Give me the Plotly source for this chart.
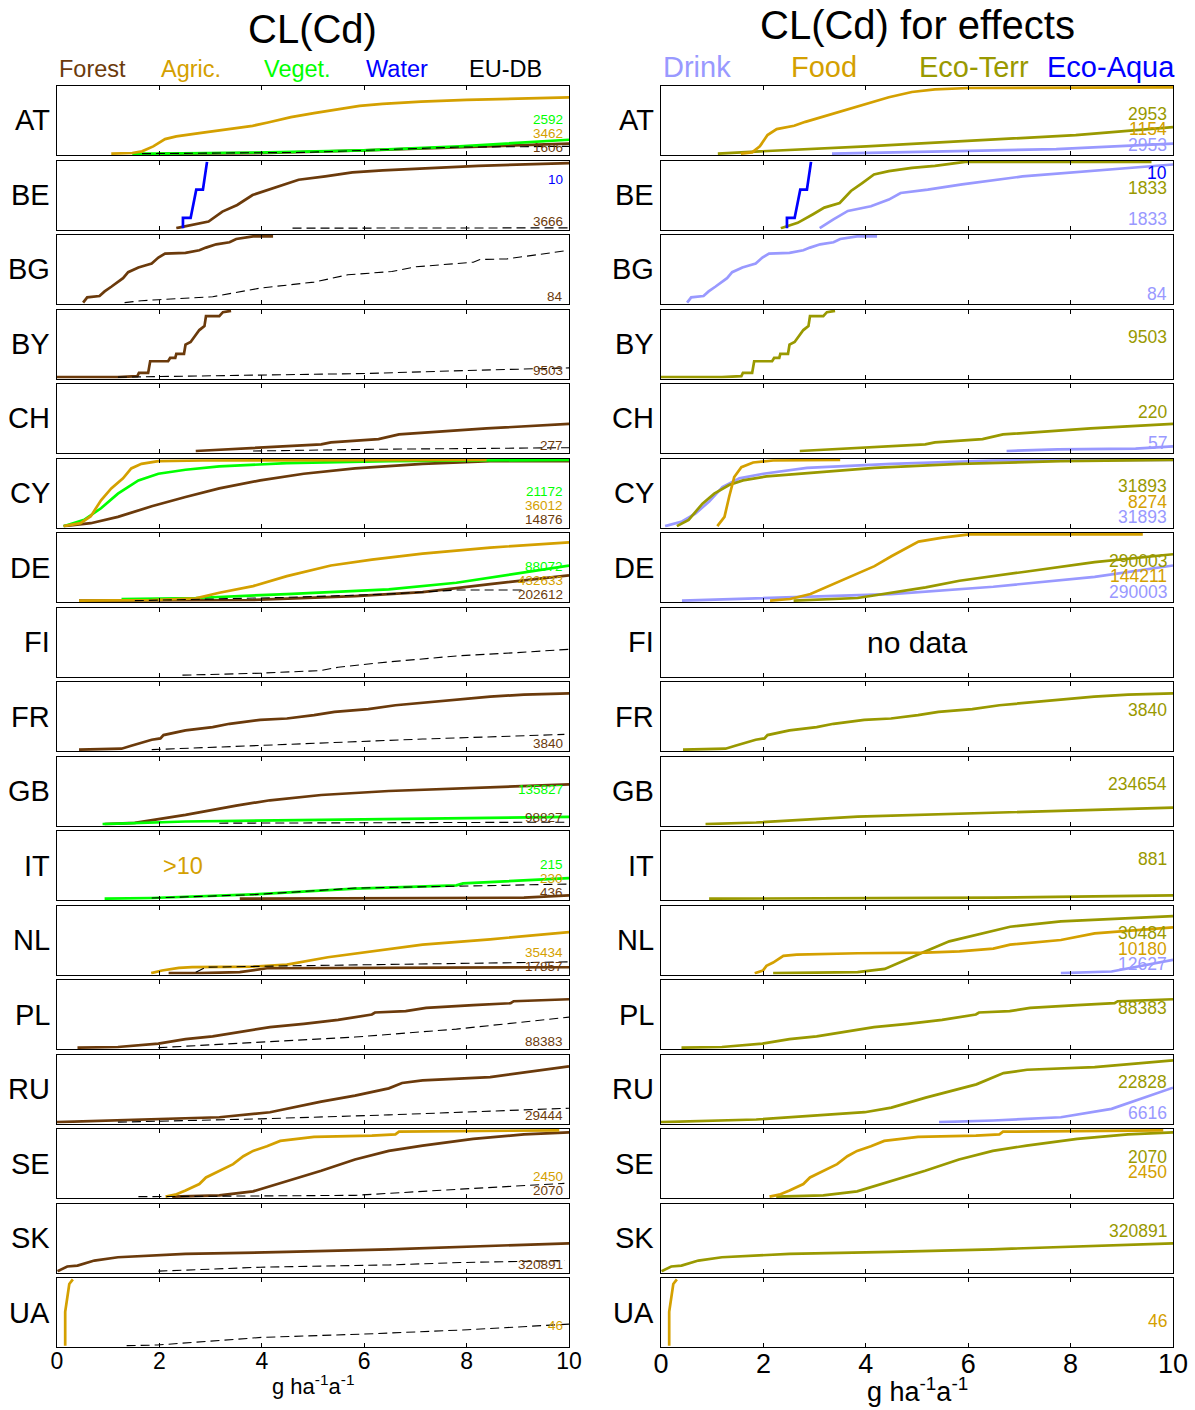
import plotly.graph_objects as go
from plotly.subplots import make_subplots

W, H = 1195, 1410
FONT = "Liberation Sans, Arial, sans-serif"

COUNTRIES = ["AT", "BE", "BG", "BY", "CH", "CY", "DE", "FI", "FR", "GB",
             "IT", "NL", "PL", "RU", "SE", "SK", "UA"]
X_TICKS = [0, 2, 4, 6, 8, 10]

# ---------------- colours ----------------
C_FOREST = "#6b3a0b"
C_AGRIC = "#d4a000"
C_VEGET = "#00ff00"
C_WATER = "#0000ff"
C_EUDB = "#000000"
C_DRINK = "#9999ff"
C_FOOD = "#d4a000"
C_ECOTERR = "#999900"
C_ECOAQUA = "#0000ff"

# ---------------- data: (CL value g/ha/a, cumulative fraction) ----------------
AT_FOREST = [(1.96, 0), (4.12, 0.01), (5.99, 0.05), (7.86, 0.10), (10, 0.15)]
AT_AGRIC = [(1.06, 0), (1.47, 0.01), (1.66, 0.035), (1.88, 0.11), (2.11, 0.22), (2.33, 0.26),
            (2.78, 0.31), (3.38, 0.37), (3.82, 0.42), (4.12, 0.47), (4.57, 0.55), (5.02, 0.61),
            (5.47, 0.66), (5.91, 0.72), (6.36, 0.75), (7.11, 0.785), (8.0, 0.81), (10, 0.85)]
AT_VEGET = [(1.47, 0), (1.96, 0), (4.12, 0.02), (5.99, 0.05), (7.86, 0.11), (10, 0.21)]
AT_EUDB = [(1.66, 0), (4.87, 0.02), (7.86, 0.10), (10, 0.11)]

BE_FOREST = [(2.33, 0), (2.96, 0.10), (3.23, 0.25), (3.52, 0.35), (3.82, 0.50), (4.2, 0.60),
             (4.42, 0.65), (4.72, 0.73), (5.24, 0.78), (5.77, 0.84), (6.36, 0.87), (7.11, 0.90),
             (8.23, 0.94), (10, 0.98)]
BE_WATER = [(2.46, 0), (2.46, 0.155), (2.61, 0.155), (2.72, 0.58), (2.85, 0.58), (2.93, 1.0)]
BE_EUDB = [(4.6, 0), (10, 0.005)]

BG_FOREST = [(0.51, 0), (0.59, 0.08), (0.83, 0.10), (0.93, 0.17), (1.06, 0.24), (1.19, 0.32),
             (1.29, 0.37), (1.39, 0.46), (1.59, 0.53), (1.72, 0.56), (1.85, 0.59), (1.98, 0.68),
             (2.11, 0.74), (2.51, 0.75), (2.78, 0.79), (2.91, 0.83), (3.11, 0.88), (3.37, 0.91),
             (3.5, 0.96), (3.83, 1.0), (4.22, 1.0)]
BG_EUDB = [(1.32, 0), (1.65, 0.03), (1.98, 0.045), (3.04, 0.09), (3.97, 0.22), (5.02, 0.31),
           (5.68, 0.42), (6.54, 0.47), (7.0, 0.54), (8.13, 0.61), (8.26, 0.65), (8.79, 0.66),
           (9.91, 0.78)]

BY_FOREST = [(0, 0), (1.19, 0), (1.57, 0.015), (1.6, 0.064), (1.78, 0.064), (1.82, 0.24),
             (2.17, 0.24), (2.21, 0.29), (2.31, 0.29), (2.33, 0.35), (2.48, 0.35), (2.51, 0.49),
             (2.61, 0.53), (2.71, 0.63), (2.78, 0.71), (2.88, 0.77), (2.91, 0.92), (3.17, 0.92),
             (3.24, 0.98), (3.4, 1.0)]
BY_EUDB = [(1.19, 0), (3.97, 0.03), (6.01, 0.055), (8.0, 0.10), (10, 0.14)]

CH_FOREST = [(2.71, 0.01), (3.97, 0.06), (5.16, 0.11), (5.35, 0.14), (6.28, 0.19), (6.68, 0.26),
             (7.8, 0.32), (8.39, 0.35), (10, 0.42)]
CH_EUDB = [(3.83, 0.01), (6.08, 0.035), (10, 0.06)]

CY_FOREST = [(0.13, 0), (0.66, 0.045), (1.19, 0.14), (1.85, 0.30), (2.51, 0.44), (3.17, 0.57),
             (3.97, 0.69), (4.82, 0.79), (5.82, 0.87), (7.14, 0.94), (8.46, 0.98), (10, 0.98)]
CY_AGRIC = [(0.13, 0), (0.46, 0.045), (0.66, 0.15), (0.86, 0.39), (1.06, 0.57), (1.29, 0.72),
            (1.45, 0.87), (1.65, 0.94), (1.98, 0.98), (2.84, 0.99), (8.39, 1.0)]
CY_VEGET = [(0.13, 0), (0.53, 0.095), (0.86, 0.27), (1.19, 0.49), (1.59, 0.69), (1.98, 0.79),
            (2.51, 0.85), (3.17, 0.90), (4.49, 0.95), (6.48, 0.98), (10, 1.0)]

DE_FOREST = [(0.43, 0), (3.83, 0.01), (5.82, 0.07), (7.14, 0.13), (8.46, 0.25), (10, 0.38)]
DE_AGRIC = [(0.43, 0), (1.85, 0.01), (2.71, 0.035), (3.17, 0.12), (3.83, 0.22), (4.49, 0.37),
            (5.35, 0.53), (6.15, 0.62), (7.14, 0.71), (8.46, 0.80), (10, 0.88)]
DE_VEGET = [(1.26, 0.025), (2.71, 0.04), (4.49, 0.10), (6.48, 0.17), (7.8, 0.27), (9.12, 0.42),
            (10, 0.53)]
DE_EUDB = [(1.52, 0), (4.49, 0.05), (6.48, 0.10), (7.8, 0.16), (9.12, 0.16)]

FI_EUDB = [(2.45, 0), (3.97, 0.03), (5.16, 0.07), (5.49, 0.12), (6.48, 0.20), (7.8, 0.29),
           (8.99, 0.34), (10, 0.39)]

FR_FOREST = [(0.43, 0), (1.26, 0.015), (1.45, 0.06), (1.85, 0.15), (2.02, 0.17), (2.08, 0.22),
             (2.51, 0.29), (3.04, 0.34), (3.37, 0.39), (3.97, 0.45), (4.49, 0.47), (5.02, 0.52),
             (5.42, 0.57), (6.08, 0.61), (6.61, 0.67), (7.27, 0.72), (7.93, 0.76), (8.46, 0.80),
             (9.12, 0.83), (10, 0.85)]
FR_EUDB = [(1.85, 0), (3.17, 0.04), (5.16, 0.11), (7.14, 0.16), (9.91, 0.23)]

GB_FOREST = [(0.93, 0), (1.52, 0.02), (2.51, 0.14), (3.5, 0.28), (4.16, 0.36), (5.16, 0.44),
             (6.48, 0.50), (7.8, 0.54), (10, 0.60)]
GB_VEGET = [(0.89, 0), (2.51, 0.04), (5.16, 0.065), (7.8, 0.095), (10, 0.11)]
GB_EUDB = [(3.17, 0.015), (10, 0.03)]

IT_FOREST = [(3.57, 0), (9.12, 0.015), (10, 0.05)]
IT_VEGET = [(0.93, 0), (1.85, 0.01), (3.83, 0.064), (5.82, 0.15), (7.8, 0.20), (7.93, 0.23),
            (10, 0.31)]
IT_EUDB = [(1.85, 0.01), (3.83, 0.06), (5.82, 0.16), (10, 0.22)]

NL_FOREST = [(2.18, 0), (2.78, 0), (3.57, 0.015), (4.1, 0.074), (10, 0.089)]
NL_AGRIC = [(1.84, 0), (2.05, 0.04), (2.38, 0.08), (2.64, 0.09), (3.83, 0.10), (4.49, 0.13),
            (5.29, 0.24), (6.15, 0.33), (7.14, 0.43), (8.46, 0.51), (10, 0.62)]
NL_EUDB = [(2.71, 0.015), (2.91, 0.09), (4.49, 0.11), (6.48, 0.13), (10, 0.17)]

PL_FOREST = [(0.4, 0), (1.19, 0.01), (1.98, 0.06), (2.51, 0.13), (3.04, 0.17), (3.5, 0.23),
             (4.16, 0.31), (4.82, 0.36), (5.49, 0.42), (6.15, 0.50), (6.21, 0.53), (6.81, 0.55),
             (7.21, 0.60), (8.13, 0.64), (8.86, 0.67), (8.92, 0.70), (10, 0.73)]
PL_EUDB = [(1.98, 0), (3.7, 0.07), (5.82, 0.16), (7.8, 0.28), (10, 0.46)]

RU_FOREST = [(0, 0), (1.85, 0.04), (3.17, 0.074), (4.16, 0.15), (5.16, 0.31), (5.82, 0.40),
             (6.48, 0.51), (6.74, 0.59), (7.14, 0.63), (8.46, 0.68), (10, 0.84)]
RU_EUDB = [(1.19, 0), (3.97, 0.05), (6.48, 0.11), (10, 0.21)]

SE_FOREST = [(2.25, 0), (3.17, 0.02), (3.83, 0.08), (4.49, 0.23), (5.16, 0.39), (5.82, 0.56),
             (6.48, 0.69), (7.14, 0.77), (8.13, 0.87), (9.12, 0.94), (10, 0.97)]
SE_AGRIC = [(2.12, 0), (2.31, 0.03), (2.51, 0.094), (2.78, 0.19), (2.91, 0.29), (3.17, 0.39),
            (3.44, 0.49), (3.64, 0.61), (3.83, 0.69), (4.1, 0.76), (4.36, 0.84), (5.02, 0.90),
            (6.15, 0.92), (6.61, 0.94), (6.68, 0.98), (9.81, 1.0)]
SE_EUDB = [(1.59, 0), (5.82, 0.02), (7.8, 0.11), (9.91, 0.20)]

SK_FOREST = [(0.01, 0), (0.2, 0.07), (0.4, 0.084), (0.73, 0.16), (1.19, 0.21), (2.51, 0.26),
             (4.49, 0.29), (6.48, 0.33), (10, 0.42)]
SK_EUDB = [(1.98, 0), (3.97, 0.06), (6.48, 0.094), (7.87, 0.13), (9.91, 0.16)]

UA_AGRIC = [(0.16, 0), (0.16, 0.51), (0.24, 0.93), (0.31, 1.0)]
UA_EUDB = [(1.36, 0), (1.96, 0.01), (4.0, 0.125), (6.0, 0.175), (8.02, 0.24), (10, 0.325)]

# --- effects ---
AT_DRINK = [(3.34, 0), (5.49, 0.035), (7.72, 0.07), (10, 0.15)]
AT_FOOD = [(1.56, 0), (1.78, 0.02), (1.93, 0.11), (2.08, 0.28), (2.26, 0.37), (2.6, 0.42),
           (2.82, 0.48), (3.12, 0.55), (3.49, 0.63), (4.01, 0.75), (4.45, 0.85), (4.9, 0.93),
           (5.35, 0.97), (6.01, 0.99), (10, 1.0)]
AT_ECOTERR = [(1.11, 0), (1.93, 0.035), (4.01, 0.11), (5.49, 0.17), (6.98, 0.23), (8.1, 0.28),
              (10, 0.40)]

BE_DRINK = [(3.1, 0), (3.36, 0.13), (3.65, 0.26), (4.1, 0.33), (4.45, 0.43), (4.68, 0.53),
            (5.21, 0.58), (5.88, 0.66), (7.06, 0.78), (8.54, 0.87), (10, 0.96)]
BE_ECOTERR = [(2.34, 0), (2.67, 0.08), (2.97, 0.21), (3.19, 0.31), (3.49, 0.38), (3.71, 0.56),
              (3.93, 0.68), (4.16, 0.81), (4.45, 0.86), (4.9, 0.91), (5.35, 0.94), (5.79, 0.98),
              (5.94, 1.0), (9.58, 1.0)]
BE_ECOAQUA = BE_WATER

BG_DRINK = BG_FOREST
BY_ECOTERR = BY_FOREST
CH_ECOTERR = CH_FOREST
CH_DRINK = [(6.75, 0.01), (7.75, 0.035), (9.27, 0.045), (10, 0.08)]

CY_DRINK = [(0.08, 0), (0.41, 0.07), (0.67, 0.19), (0.94, 0.37), (1.2, 0.59), (1.53, 0.72),
            (2.0, 0.79), (2.85, 0.88), (4.5, 0.94), (6.49, 0.99), (10, 1.0)]
CY_FOOD = [(1.1, 0), (1.24, 0.14), (1.33, 0.44), (1.43, 0.74), (1.57, 0.89), (1.8, 0.96),
           (2.19, 0.99), (3.5, 1.0)]
CY_ECOTERR = [(0.31, 0), (0.54, 0.095), (0.81, 0.34), (1.04, 0.49), (1.33, 0.62), (1.6, 0.69),
              (2.06, 0.75), (2.85, 0.80), (4.17, 0.88), (5.83, 0.94), (7.81, 0.98), (10, 1.0)]

DE_DRINK = [(0.41, 0), (1.86, 0.035), (4.5, 0.10), (6.49, 0.21), (8.47, 0.36), (10, 0.53)]
DE_FOOD = [(2.13, 0), (2.52, 0.025), (2.92, 0.10), (3.51, 0.30), (4.17, 0.52), (4.5, 0.67),
           (5.03, 0.89), (5.5, 0.95), (6.02, 1.0), (9.41, 1.0)]
DE_ECOTERR = [(2.59, 0), (3.84, 0.04), (5.17, 0.20), (5.83, 0.30), (7.15, 0.44), (8.47, 0.58),
              (10, 0.70)]

FR_ECOTERR = FR_FOREST
GB_ECOTERR = [(0.87, 0), (1.86, 0.025), (3.84, 0.115), (6.49, 0.17), (10, 0.25)]
IT_ECOTERR = [(0.94, 0), (6.49, 0.015), (10, 0.05)]

NL_DRINK = [(7.81, 0), (8.8, 0.025), (10, 0.20)]
NL_FOOD = [(1.83, 0), (1.99, 0.04), (2.06, 0.11), (2.19, 0.16), (2.39, 0.26), (2.65, 0.28),
           (3.84, 0.30), (5.17, 0.31), (5.83, 0.33), (6.49, 0.37), (6.82, 0.43), (7.81, 0.50),
           (8.47, 0.60), (10, 0.69)]
NL_ECOTERR = [(2.19, 0), (3.84, 0.015), (4.37, 0.064), (4.83, 0.21), (5.17, 0.33), (5.63, 0.48),
              (6.16, 0.58), (6.82, 0.70), (7.81, 0.78), (10, 0.86)]

PL_ECOTERR = PL_FOREST
RU_DRINK = [(5.43, 0), (6.49, 0.025), (7.81, 0.074), (8.8, 0.20), (10, 0.52)]
RU_ECOTERR = [(0, 0), (1.86, 0.04), (3.98, 0.15), (4.5, 0.22), (5.17, 0.37), (5.83, 0.50),
              (6.16, 0.57), (6.69, 0.74), (7.15, 0.79), (8.47, 0.83), (10, 0.93)]
SE_FOOD = SE_AGRIC
SE_ECOTERR = SE_FOREST
SK_ECOTERR = SK_FOREST
UA_FOOD = UA_AGRIC

# number of records per series (slot index from bottom)
LEFT_COUNTS = {
    "AT": [("forest", 1606), ("agric", 3462), ("veget", 2592)],
    "BE": [("forest", 3666), ("water", 10)],
    "BG": [("forest", 84)],
    "BY": [("forest", 9503)],
    "CH": [("forest", 277)],
    "CY": [("forest", 14876), ("agric", 36012), ("veget", 21172)],
    "DE": [("forest", 202612), ("agric", 432633), ("veget", 88072)],
    "FR": [("forest", 3840)],
    "GB": [("forest", 98827), ("veget", 135827)],
    "IT": [("forest", 436), ("agric", 230), ("veget", 215)],
    "NL": [("forest", 17857), ("agric", 35434)],
    "PL": [("forest", 88383)],
    "RU": [("forest", 29444)],
    "SE": [("forest", 2070), ("agric", 2450)],
    "SK": [("forest", 320891)],
    "UA": [("agric", 46)],
}
RIGHT_COUNTS = {
    "AT": [("drink", 2953), ("food", 1154), ("ecoterr", 2953)],
    "BE": [("drink", 1833), ("ecoterr", 1833), ("ecoaqua", 10)],
    "BG": [("drink", 84)],
    "BY": [("ecoterr", 9503)],
    "CH": [("drink", 57), ("ecoterr", 220)],
    "CY": [("drink", 31893), ("food", 8274), ("ecoterr", 31893)],
    "DE": [("drink", 290003), ("food", 144211), ("ecoterr", 290003)],
    "FR": [("ecoterr", 3840)],
    "GB": [("ecoterr", 234654)],
    "IT": [("ecoterr", 881)],
    "NL": [("drink", 12627), ("food", 10180), ("ecoterr", 30484)],
    "PL": [("ecoterr", 88383)],
    "RU": [("drink", 6616), ("ecoterr", 22828)],
    "SE": [("food", 2450), ("ecoterr", 2070)],
    "SK": [("ecoterr", 320891)],
    "UA": [("food", 46)],
}

LEFT_SERIES = ["forest", "veget", "agric", "water", "eudb"]
RIGHT_SERIES = ["drink", "ecoterr", "food", "ecoaqua"]
LEFT_LEGEND = [("Forest", C_FOREST, 0), ("Agric.", C_AGRIC, 2), ("Veget.", C_VEGET, 4),
               ("Water", C_WATER, 6), ("EU-DB", C_EUDB, 8)]
RIGHT_LEGEND = [("Drink", C_DRINK, 0), ("Food", C_FOOD, 2.5), ("Eco-Terr", C_ECOTERR, 5),
                ("Eco-Aqua", C_ECOAQUA, 7.5)]

COLORS = {"forest": C_FOREST, "agric": C_AGRIC, "veget": C_VEGET, "water": C_WATER,
          "eudb": C_EUDB, "drink": C_DRINK, "food": C_FOOD, "ecoterr": C_ECOTERR,
          "ecoaqua": C_ECOAQUA}
LEFT_SLOT = {"forest": 0, "agric": 1, "veget": 2, "water": 3}
RIGHT_SLOT = {"drink": 0, "food": 1, "ecoterr": 2, "ecoaqua": 3}

# ---------------- layout geometry (pixels) ----------------
LEFT_PX = (57, 569)
RIGHT_PX = (661, 1173)
TOP0, STEP, PH = 86, 74.5, 69

g = globals()
fig = make_subplots(rows=17, cols=2)


def axname(r, c):
    idx = r * 2 + c + 1
    return ("" if idx == 1 else str(idx))


annotations = []
for r, cc in enumerate(COUNTRIES):
    top = TOP0 + r * STEP
    bot = top + PH
    ydom = [1 - bot / H, 1 - top / H]
    last = r == len(COUNTRIES) - 1
    for c, (xpx, series, slotmap, counts, lfs, cfs) in enumerate([
            (LEFT_PX, LEFT_SERIES, LEFT_SLOT, LEFT_COUNTS, 23, 13.5),
            (RIGHT_PX, RIGHT_SERIES, RIGHT_SLOT, RIGHT_COUNTS, 27, 17.5)]):
        fig.update_xaxes(domain=[xpx[0] / W, xpx[1] / W], range=[0, 10], automargin=False,
                         showline=True, linecolor="black", linewidth=1, mirror="ticks",
                         ticks="inside", ticklen=4, tickwidth=1, tickcolor="black",
                         tickvals=X_TICKS, ticktext=[str(t) for t in X_TICKS],
                         showticklabels=last, ticklabelstandoff=-7,
                         tickfont=dict(family=FONT, size=lfs, color="black"),
                         showgrid=False, zeroline=False, fixedrange=True,
                         row=r + 1, col=c + 1)
        fig.update_yaxes(domain=ydom, range=[-0.02, 1.02], showline=True, linecolor="black",
                         linewidth=1, mirror=True, ticks="", showticklabels=False, automargin=False,
                         showgrid=False, zeroline=False, fixedrange=True,
                         row=r + 1, col=c + 1)
        drawn = 0
        for s in series:
            key = f"{cc}_{s.upper()}"
            if key not in g:
                continue
            pts = g[key]
            is_db = s == "eudb"
            fig.add_trace(go.Scatter(
                x=[p[0] for p in pts], y=[p[1] for p in pts], mode="lines",
                line=dict(color=COLORS[s], width=1.1 if is_db else 2.7,
                          dash="9px,5px" if is_db else "solid"),
                showlegend=False, hoverinfo="skip"), row=r + 1, col=c + 1)
            drawn += 1
        if drawn == 0:
            # invisible anchor so that the empty panel frame is still drawn
            fig.add_trace(go.Scatter(x=[5], y=[0.5], mode="markers",
                                     marker=dict(opacity=0, size=1),
                                     showlegend=False, hoverinfo="skip"), row=r + 1, col=c + 1)
        an = axname(r, c)
        annotations.append(dict(text=cc, xref=f"x{an} domain", yref=f"y{an} domain",
                                x=-0.01, y=0.5, xanchor="right", yanchor="middle",
                                showarrow=False, font=dict(family=FONT, size=29, color="black")))
        base, step = (0.11, 0.205) if c == 0 else (0.15, 0.225)
        for s, n in counts.get(cc, []):
            annotations.append(dict(text=str(n), xref=f"x{an} domain", yref=f"y{an} domain",
                                    x=0.992, y=base + slotmap[s] * step, xanchor="right",
                                    yanchor="middle", showarrow=False,
                                    font=dict(family=FONT, size=cfs, color=COLORS[s])))
        if c == 0 and cc == "IT":
            annotations.append(dict(text=">10", xref=f"x{an}", yref=f"y{an} domain",
                                    x=2.46, y=0.5, xanchor="center", yanchor="middle",
                                    showarrow=False, font=dict(family=FONT, size=23.5, color=C_AGRIC)))
        if c == 1 and cc == "FI":
            annotations.append(dict(text="no data", xref=f"x{an} domain", yref=f"y{an} domain",
                                    x=0.5, y=0.5, xanchor="center", yanchor="middle",
                                    showarrow=False, font=dict(family=FONT, size=30, color="black")))


def px_ann(text, x, y, size, color="black", xanchor="center"):
    return dict(text=text, xref="paper", yref="paper", x=x / W, y=1 - y / H,
                xanchor=xanchor, yanchor="middle", showarrow=False,
                font=dict(family=FONT, size=size, color=color))


annotations.append(px_ann("CL(Cd)", 312, 29, 40))
annotations.append(px_ann("CL(Cd) for effects", 917, 25, 40))
for name, col, xv in LEFT_LEGEND:
    annotations.append(px_ann(name, LEFT_PX[0] + xv * (LEFT_PX[1] - LEFT_PX[0]) / 10, 69, 23.5,
                              col, "left"))
for name, col, xv in RIGHT_LEGEND:
    annotations.append(px_ann(name, RIGHT_PX[0] + xv * (RIGHT_PX[1] - RIGHT_PX[0]) / 10, 67, 29,
                              col, "left"))
annotations.append(px_ann("g ha<sup>-1</sup>a<sup>-1</sup>", 313, 1385, 22))
annotations.append(px_ann("g ha<sup>-1</sup>a<sup>-1</sup>", 917, 1390, 27))

fig.update_layout(width=W, height=H, autosize=False, margin=dict(l=0, r=0, t=0, b=0, pad=0),
                  paper_bgcolor="white", plot_bgcolor="white",
                  annotations=annotations, showlegend=False,
                  font=dict(family=FONT))
fig.write_html("out.html", config={"responsive": False, "displayModeBar": False},
               post_script="document.body.style.margin='0';document.body.style.overflow='hidden';")
